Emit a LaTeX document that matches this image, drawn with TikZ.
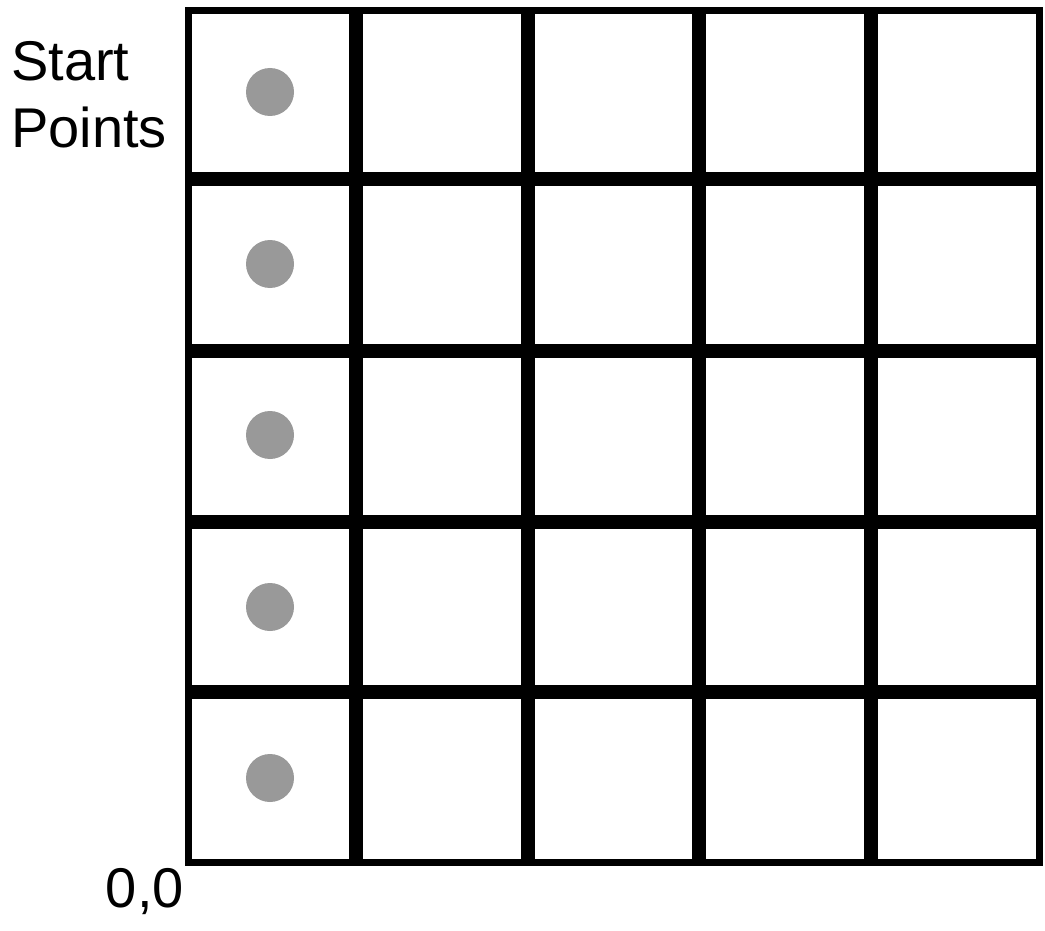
\documentclass[tikz,border=0pt]{standalone}
\usepackage{fontspec}
\setmainfont{Liberation Sans}
\begin{document}
\begin{tikzpicture}[x=1pt,y=-1pt,
  border/.style={line width=7pt,draw=black},
  inner/.style={line width=14pt,draw=black},
  startdot/.style={circle,fill=black!40,minimum size=48pt,inner sep=0pt},
  lbl/.style={inner sep=0pt,font=\fontsize{56}{66}\selectfont}]
\useasboundingbox (0,0) rectangle (1045,931);
\fill[white] (0,0) rectangle (1045,931);
\coordinate (bl) at (188.5,862.5);
\coordinate (tr) at (1039.5,10.5);
\foreach \x in {356,528,699,871}
  \draw[inner] (\x,10.5) -- (\x,862.5);
\foreach \y in {179,350.5,522,692}
  \draw[inner] (188.5,\y) -- (1039.5,\y);
\draw[border] (bl) rectangle (tr);
\foreach \y/\n in {92/1,264/2,435/3,607/4,778/5}
  \node[startdot] (d\n) at (270,\y) {};
\node[lbl,anchor=base west] (start) at (11,81) {Start};
\node[lbl,anchor=base west] (points) at (11,148) {Points};
\node[lbl,anchor=base east] (origin) at (184,907) {0,0};
\end{tikzpicture}
\end{document}
